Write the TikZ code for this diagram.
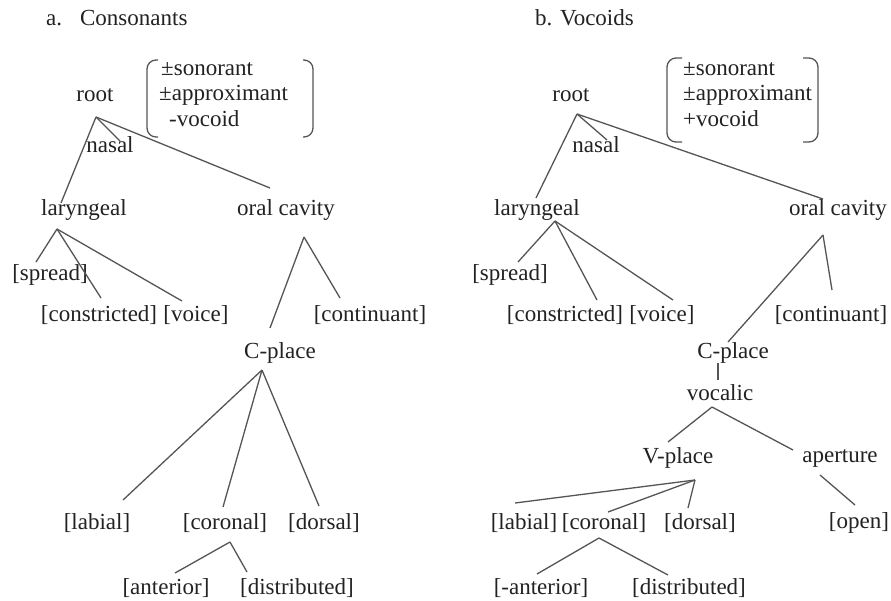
\documentclass[tikz,border=0pt]{standalone}
\usepackage{fontspec}
\setmainfont{Liberation Serif}
\definecolor{txt}{HTML}{222222}
\definecolor{ln}{HTML}{555555}
\newcommand\tlink[6]{\draw[treeline] ([shift={(#2,#3)}]#1.center) -- ([shift={(#5,#6)}]#4.center);}
\begin{document}
\begin{tikzpicture}[x=1pt,y=-1pt,
  lbl/.style={inner sep=0pt, text=txt, font=\fontsize{23}{27}\selectfont},
  treeline/.style={draw=ln, line width=1.3pt},
  brk/.style={draw=ln, line width=1.3pt, rounded corners=9pt}]
\useasboundingbox[fill=white] (0,0) rectangle (891,600);

% ---------- a. Consonants ----------
\node[lbl, anchor=west] (titleA) at (46,18) {a.\hspace{18pt}Consonants};
\node[lbl] (root1) at (95,95) {root};
\node[lbl] (nasal1) at (110,145) {nasal};
\node[lbl, anchor=west] (fa1) at (161,69) {±sonorant};
\node[lbl, anchor=west] (fa2) at (159,95) {±approximant};
\node[lbl, anchor=west] (fa3) at (169,119) {-vocoid};
\draw[brk] (158,60) -- (147,60) -- (147,137) -- (158,137);
\draw[brk] (303,60) -- (313,60) -- (313,137) -- (303,137);
\node[lbl] (lar1) at (84,210) {laryngeal};
\node[lbl] (oral1) at (286,210) {oral cavity};
\node[lbl] (spread1) at (50,275) {[spread]};
\node[lbl] (constr1) at (99,315) {[constricted]};
\node[lbl] (voice1) at (196,315) {[voice]};
\node[lbl] (cont1) at (370,315) {[continuant]};
\node[lbl] (cpl1) at (280,353) {C-place};
\node[lbl] (lab1) at (97,523) {[labial]};
\node[lbl] (cor1) at (225,523) {[coronal]};
\node[lbl] (dor1) at (324,523) {[dorsal]};
\node[lbl] (ant1) at (166,588) {[anterior]};
\node[lbl] (dist1) at (297,588) {[distributed]};

\tlink{root1}{1}{22}{lar1}{-23}{-7}
\tlink{root1}{1}{22}{nasal1}{10}{-4}
\tlink{root1}{1}{22}{oral1}{-16}{-22}
\tlink{lar1}{-27}{19}{spread1}{-14}{-13}
\tlink{lar1}{-27}{19}{constr1}{2}{-17}
\tlink{lar1}{-27}{19}{voice1}{-14}{-14}
\tlink{oral1}{18}{27}{cpl1}{-10}{-25}
\tlink{oral1}{18}{27}{cont1}{-30}{-17}
\tlink{cpl1}{-18}{17}{lab1}{26}{-23}
\tlink{cpl1}{-18}{17}{cor1}{-2}{-16}
\tlink{cpl1}{-18}{17}{dor1}{-5}{-17}
\tlink{cor1}{5}{19}{ant1}{9}{-15}
\tlink{cor1}{5}{19}{dist1}{-50}{-16}

% ---------- b. Vocoids ----------
\node[lbl, anchor=west] (titleB) at (535,18) {b. Vocoids};
\node[lbl] (root2) at (571,95) {root};
\node[lbl] (nasal2) at (596,145) {nasal};
\node[lbl, anchor=west] (fb1) at (683,69) {±sonorant};
\node[lbl, anchor=west] (fb2) at (683,95) {±approximant};
\node[lbl, anchor=west] (fb3) at (683,119) {+vocoid};
\draw[brk] (682,58) -- (667,58) -- (667,142) -- (682,142);
\draw[brk] (803,58) -- (818,58) -- (818,142) -- (803,142);
\node[lbl] (lar2) at (537,210) {laryngeal};
\node[lbl] (oral2) at (838,210) {oral cavity};
\node[lbl] (spread2) at (510,275) {[spread]};
\node[lbl] (constr2) at (565,315) {[constricted]};
\node[lbl] (voice2) at (662,315) {[voice]};
\node[lbl] (cont2) at (831,315) {[continuant]};
\node[lbl] (cpl2) at (733,353) {C-place};
\node[lbl] (voc2) at (720,393) {vocalic};
\node[lbl] (vpl2) at (678,458) {V-place};
\node[lbl] (apert2) at (840,458) {aperture};
\node[lbl] (open2) at (859,523) {[open]};
\node[lbl] (lab2) at (524,523) {[labial]};
\node[lbl] (cor2) at (604,523) {[coronal]};
\node[lbl] (dor2) at (700,523) {[dorsal]};
\node[lbl] (ant2) at (541,588) {[-anterior]};
\node[lbl] (dist2) at (689,588) {[distributed]};

\tlink{root2}{6}{19}{lar2}{-1}{-12}
\tlink{root2}{6}{19}{nasal2}{11}{-5}
\tlink{root2}{6}{19}{oral2}{-15}{-11}
\tlink{lar2}{18}{11}{spread2}{8}{-13}
\tlink{lar2}{18}{11}{constr2}{32}{-15}
\tlink{lar2}{18}{11}{voice2}{11}{-15}
\tlink{oral2}{-15}{25}{cpl2}{-5}{-11}
\tlink{oral2}{-15}{25}{cont2}{1}{-25}
\tlink{cpl2}{-15}{10}{voc2}{-2}{-13}
\tlink{voc2}{-8}{14}{vpl2}{-10}{-16}
\tlink{voc2}{-8}{14}{apert2}{-47}{-8}
\tlink{apert2}{-20}{17}{open2}{-4}{-18}
\tlink{vpl2}{17}{22}{lab2}{-9}{-20}
\tlink{vpl2}{17}{22}{cor2}{4}{-11}
\tlink{vpl2}{17}{22}{dor2}{-12}{-15}
\tlink{cor2}{-5}{15}{ant2}{-4}{-14}
\tlink{cor2}{-5}{15}{dist2}{-21}{-13}
\end{tikzpicture}
\end{document}
